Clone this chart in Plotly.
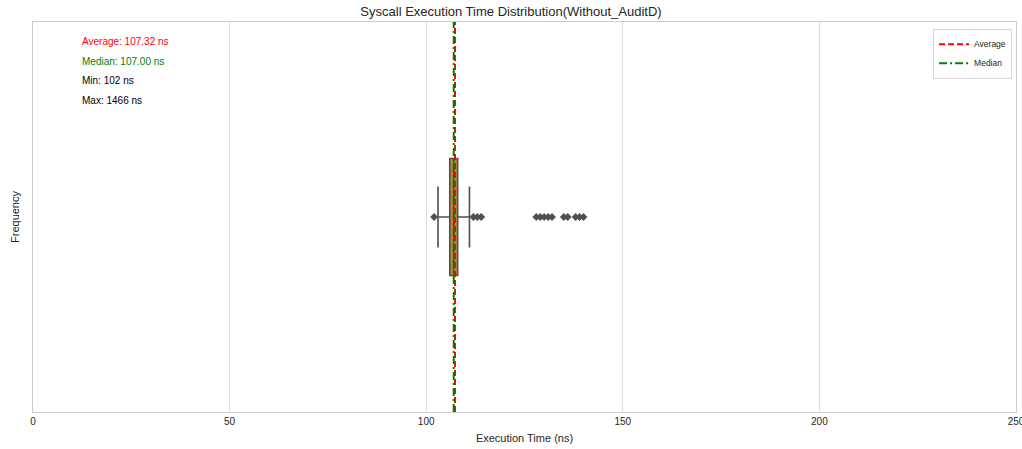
import plotly.graph_objects as go

# ---- data ----
box_stats = {"lowerfence": [103], "q1": [106], "median": [107], "q3": [108], "upperfence": [111]}
outliers = [102, 112, 113, 114, 128, 129, 130, 131, 132, 135, 136, 138, 139, 140, 1466]
average = 107.32
median_val = 107.00
min_val = 102
max_val = 1466
x_ticks = [0, 50, 100, 150, 200, 250]

FONT = "Liberation Sans, Arial, sans-serif"
EDGE = "#4f4f4f"

fig = go.Figure()

fig.add_trace(go.Box(
    y=[0], q1=box_stats["q1"], median=box_stats["median"], q3=box_stats["q3"],
    lowerfence=box_stats["lowerfence"], upperfence=box_stats["upperfence"],
    orientation="h", width=0.3, whiskerwidth=0.52,
    fillcolor="#c4843f", line=dict(color=EDGE, width=1.6),
    showlegend=False, hoverinfo="skip",
))

fig.add_trace(go.Scatter(
    x=outliers, y=[0] * len(outliers), mode="markers",
    marker=dict(symbol="diamond", size=6, color=EDGE),
    showlegend=False, hoverinfo="skip",
))

fig.add_trace(go.Scatter(
    x=[average, average], y=[-0.5, 0.5], mode="lines", name="Average",
    line=dict(color="red", width=2, dash="6px,3px"),
))
fig.add_trace(go.Scatter(
    x=[median_val, median_val], y=[-0.5, 0.5], mode="lines", name="Median",
    line=dict(color="green", width=2, dash="8px,3px,2px,3px"),
))

texts = [
    (f"Average: {average:.2f} ns", "red"),
    (f"Median: {median_val:.2f} ns", "green"),
    (f"Min: {min_val} ns", "black"),
    (f"Max: {max_val} ns", "black"),
]
for i, (t, c) in enumerate(texts):
    fig.add_annotation(
        x=0.048, y=0.95 - i * 0.05, xref="paper", yref="paper",
        text=t, showarrow=False, xanchor="left", yanchor="middle",
        font=dict(family=FONT, size=10, color=c),
    )

fig.update_layout(
    width=1022, height=449,
    margin=dict(l=33, r=6, t=22, b=37),
    paper_bgcolor="white", plot_bgcolor="white",
    font=dict(family=FONT, size=10, color="#262626"),
    title=dict(text="Syscall Execution Time Distribution(Without_AuditD)",
               x=0.5, xanchor="center", y=0.985, yanchor="top",
               font=dict(family=FONT, size=13, color="#262626")),
    legend=dict(x=0.996, y=0.983, xanchor="right", yanchor="top",
                bgcolor="white", bordercolor="#d6d6d6", borderwidth=1,
                itemwidth=30, tracegroupgap=0,
                font=dict(family=FONT, size=8.5, color="#262626")),
    xaxis=dict(range=[0, 250], tickvals=x_ticks, ticks="", showgrid=True,
               ticklabeloverflow="allow", automargin=False,
               gridcolor="#dcdcdc", gridwidth=1, zeroline=False,
               showline=True, linecolor="#cccccc", linewidth=1, mirror=True,
               title=dict(text="Execution Time (ns)", standoff=8,
                          font=dict(family=FONT, size=11, color="#262626")),
               tickfont=dict(family=FONT, size=10, color="#262626")),
    yaxis=dict(range=[-0.5, 0.5], showticklabels=False, ticks="", showgrid=False,
               automargin=False,
               zeroline=False, showline=True, linecolor="#cccccc", linewidth=1, mirror=True,
               title=dict(text="Frequency", standoff=10,
                          font=dict(family=FONT, size=11, color="#262626"))),
)

fig.write_html("out.html")
